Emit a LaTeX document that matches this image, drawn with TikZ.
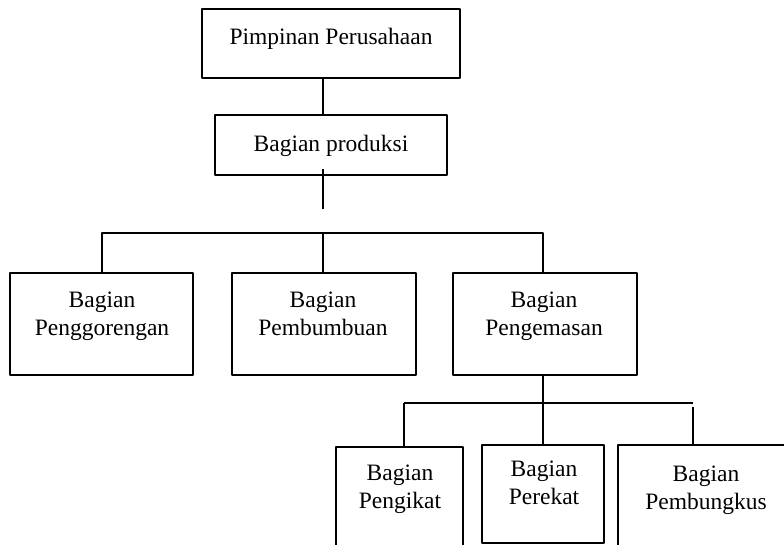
\documentclass[tikz,border=0pt]{standalone}
\usepackage{fontspec}
\setmainfont{Liberation Serif}
\begin{document}
\begin{tikzpicture}[x=1pt, y=-1pt, line width=1.8pt, line join=round,
  font=\fontsize{23.5}{28}\selectfont,
  box/.style={draw, rectangle, inner sep=0pt, outer sep=0pt},
  txt/.style={anchor=north, inner sep=0pt, align=center}]
\useasboundingbox (0,0) rectangle (784,545);
\clip (0,0) rectangle (784,545);
% kotak
\node[box, minimum width=258pt, minimum height=69pt] (pimpinan) at (331,43.5) {};
\node[box, minimum width=232pt, minimum height=60pt] (produksi) at (331,145) {};
\node[box, minimum width=183pt, minimum height=102pt] (goreng) at (101.5,324) {};
\node[box, minimum width=184pt, minimum height=102pt] (bumbu) at (324,324) {};
\node[box, minimum width=184pt, minimum height=102pt] (kemas) at (545,324) {};
\node[box, minimum width=127pt, minimum height=110pt] (ikat) at (399.5,502) {};
\node[box, minimum width=122pt, minimum height=98pt] (rekat) at (543,494) {};
\node[box, minimum width=200pt, minimum height=110pt] (bungkus) at (718,500) {};
% teks
\node[txt] (pimpinanT) at (331,27) {Pimpinan Perusahaan};
\node[txt] (produksiT) at (331,134) {Bagian produksi};
\node[txt] (gorengT) at (102,291) {Bagian\\Penggorengan};
\node[txt] (bumbuT) at (323,291) {Bagian\\Pembumbuan};
\node[txt] (kemasT) at (544,291) {Bagian\\Pengemasan};
\node[txt] (ikatT) at (400,464) {Bagian\\Pengikat};
\node[txt] (rekatT) at (544,460) {Bagian\\Perekat};
\node[txt] (bungkusT) at (706,465) {Bagian\\Pembungkus};
% garis
\coordinate (spine) at (323,0);
\coordinate (ujung) at (323,209);
\coordinate (bus) at (323,233);
\coordinate (ki) at (404,403);
\coordinate (ka) at (693,403);
\draw (pimpinan.south -| spine) -- (produksi.north -| spine);
\draw (produksi.south -| spine) ++(0,-6) -- (ujung);
\draw (goreng.north -| 102,0) |- (bus) -| (kemas.north -| 543,0);
\draw (bumbu.north -| bus) -- (bus);
\draw (rekat.north |- kemas.south) -- (rekat.north);
\draw (ki) -- (ka);
\draw (ki) -- (ki |- ikat.north);
\draw ([yshift=-4pt]ka) -- (ka |- bungkus.north);
\end{tikzpicture}
\end{document}
